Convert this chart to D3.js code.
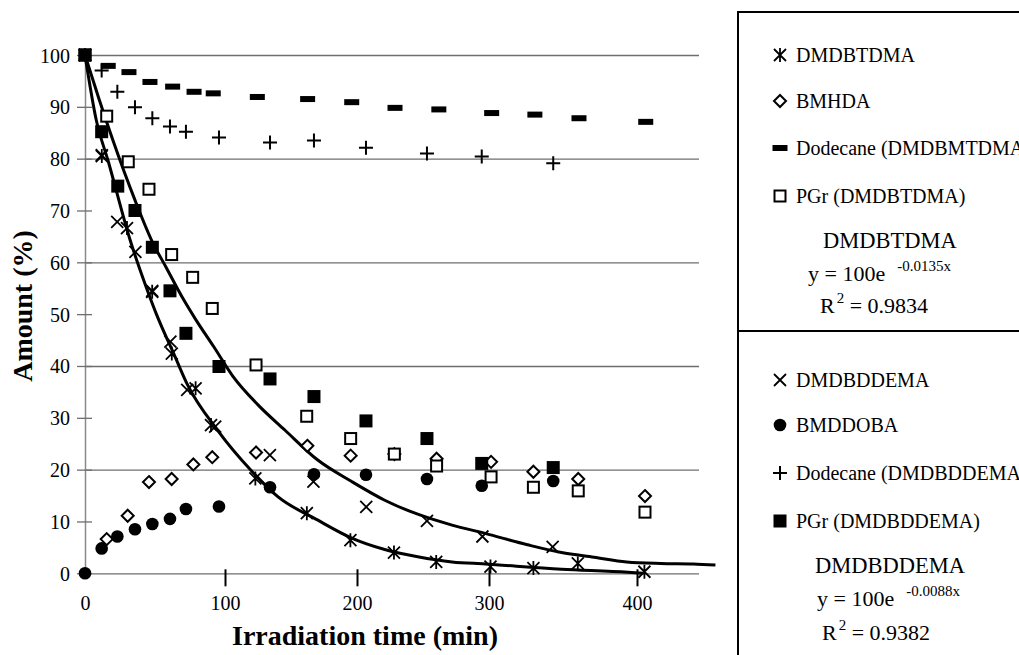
<!DOCTYPE html>
<html>
<head>
<meta charset="utf-8">
<script src="https://cdn.jsdelivr.net/npm/d3@7"></script>
<style>
  body { margin: 0; background: #fff; }
  svg { display: block; }
  text { font-family: "Liberation Serif", "Times New Roman", serif; fill: #000; }
</style>
</head>
<body>
<svg id="chart" width="1019" height="655"></svg>
<script>
// Series values: [time (min), amount (%)]
const dmdbtdma = [[0,100],[12,80.5],[30,66.6],[48,54.3],[62,42.4],[79,35.7],[90,28.6],[123,18.3],[162,11.6],[195,6.4],[228,4.0],[260,2.2],[301,1.3],[330,1.0],[360,1.9],[405,0.3]];
const bmhda = [[15.5,6.6],[30.5,11.1],[45.7,17.6],[61.9,18.2],[77.4,21.0],[90.9,22.4],[123.5,23.3],[162.4,24.6],[195.2,22.7],[228.3,23.0],[260.3,22.1],[301.4,21.5],[330,19.6],[360.3,18.2],[405.4,14.9]];
const dodecaneTD = [[16.6,97.9],[31.4,96.7],[46.4,94.8],[62.6,93.9],[77.9,92.9],[91.6,92.6],[124.5,91.9],[162.6,91.5],[196,90.9],[228.8,89.8],[262,89.5],[301.8,88.8],[331,88.5],[360.8,87.8],[405.9,87.1]];
const pgrTD = [[0,100],[15.5,88.2],[30.9,79.4],[45.7,74.1],[61.9,61.5],[76.9,57.1],[90.9,51.1],[123.5,40.2],[161.9,30.3],[195.2,26.0],[228.3,23.0],[260.3,20.7],[301.4,18.6],[330,16.6],[360.3,15.9],[405.4,11.8]];

const dmdbddema = [[0,100],[12,80.7],[23,67.8],[36,62.0],[48,54.5],[61,44.7],[73,35.4],[93,28.3],[134,22.8],[167,17.7],[207,12.8],[253,10.1],[295,7.1],[343,5.1]];
const bmddoba = [[0,0],[11.9,4.8],[23.1,7.1],[35.7,8.5],[48.1,9.5],[60.7,10.5],[72.1,12.4],[95.7,12.9],[134.1,16.6],[167.4,19.1],[206.8,19.0],[253,18.2],[294.5,16.9],[343.4,17.8]];
const dodecaneDD = [[11.9,97.0],[23.1,92.9],[35.7,89.9],[48.1,87.8],[60.7,86.2],[72.1,85.2],[95.7,84.1],[134.1,83.1],[167.4,83.5],[206.8,82.1],[253,81.0],[294.5,80.4],[343.4,79.1]];
const pgrDD = [[0,100],[11.9,85.2],[23.4,74.7],[35.7,70.0],[48.1,62.9],[60.7,54.5],[72.1,46.3],[95.7,39.9],[134.1,37.5],[167.4,34.1],[206.8,29.4],[253,26.0],[294.5,21.2],[343.4,20.4]];

// fitted curves
const fitTD = [[0,100],[8,87.5],[16.6,79.5],[32,64.5],[44,55],[51,50],[64,42],[73,36.5],[95,27.5],[120,19.8],[140,14.8],[170,10.3],[196,6.8],[221,4.6],[246,3.2],[272,2.2],[297,1.8],[349,0.8],[394,0.2],[404,0]];
const fitDD = [[0,100],[10,91.5],[20,83.5],[35.7,72],[48,64],[58,59],[70,53],[79,49],[92,43.7],[106,38],[125,32.5],[145.5,27.6],[170,21.9],[196,17.7],[221,14.1],[246,11.4],[272,9.3],[297,7.7],[326,5.5],[349,4.0],[371,3.1],[393,2.2],[416,1.9],[438,1.8],[453,1.6]];

const xTicks = [0, 100, 200, 300, 400];
const yTicks = [0, 10, 20, 30, 40, 50, 60, 70, 80, 90, 100];
const yGrid = [0, 20, 40, 60, 80, 100];

const legendTop = ["DMDBTDMA", "BMHDA", "Dodecane (DMDBMTDMA)", "PGr (DMDBTDMA)"];
const legendBottom = ["DMDBDDEMA", "BMDDOBA", "Dodecane (DMDBDDEMA)", "PGr (DMDBDDEMA)"];
const fitTop = { name: "DMDBTDMA", k: "-0.0135x", r2: "0.9834" };
const fitBottom = { name: "DMDBDDEMA", k: "-0.0088x", r2: "0.9382" };

// ---------------------------------------------------------------
const svg = d3.select("#chart");
svg.append("rect").attr("width", 1019).attr("height", 655).attr("fill", "#fff");

// the original axis is not evenly spaced, so the scale is polylinear
const x = d3.scaleLinear().domain(xTicks).range([85, 225, 357, 489, 637]);
const y = d3.scaleLinear().domain([0, 100]).range([573.3, 55]);
const plotRight = 699;

// gridlines
svg.append("g")
    .attr("transform", "translate(85,0)")
    .call(d3.axisLeft(y).tickValues(yGrid).tickSize(-(plotRight - 85)).tickFormat(""))
    .call(g => g.select(".domain").remove())
    .call(g => g.selectAll("line").attr("stroke", "#6e6e6e").attr("stroke-width", 1.3));

// y axis
let yAxis = svg.append("g")
    .attr("transform", "translate(85,0)")
    .call(d3.axisLeft(y).tickValues(yTicks).tickSize(8).tickPadding(7).tickSizeOuter(0));
yAxis.select(".domain").attr("stroke", "#8a8a8a").attr("stroke-width", 1.5);
yAxis.selectAll(".tick line").attr("x1", -8).attr("x2", 7).attr("stroke", "#6e6e6e").attr("stroke-width", 1.3);
yAxis.selectAll(".tick text")
    .style("font-family", "'Liberation Serif', serif")
    .style("font-size", "20px")
    .attr("dy", "0.35em");

// x axis
let xAxis = svg.append("g")
    .attr("transform", `translate(0,${y(0)})`)
    .call(d3.axisBottom(x).tickValues(xTicks).tickSize(13).tickSizeOuter(0));
xAxis.select(".domain").remove();
xAxis.selectAll(".tick line")
    .attr("y1", -4).attr("y2", 13)
    .attr("stroke", "#000").attr("stroke-width", 2)
    .attr("display", d => d === 0 ? "none" : null);
xAxis.selectAll(".tick text")
    .style("font-family", "'Liberation Serif', serif")
    .style("font-size", "20px")
    .attr("y", 37).attr("dy", 0);

// axis titles
svg.append("text")
    .attr("x", 365).attr("y", 645)
    .attr("text-anchor", "middle")
    .style("font-size", "28px").style("font-weight", "bold")
    .text("Irradiation time (min)");
svg.append("text")
    .attr("transform", "translate(32,306) rotate(-90)")
    .attr("text-anchor", "middle")
    .style("font-size", "28px").style("font-weight", "bold")
    .text("Amount (%)");

// fitted curves
const line = d3.line().x(d => x(d[0])).y(d => y(d[1])).curve(d3.curveMonotoneX);
[fitTD, fitDD].forEach(pts => {
    svg.append("path")
        .attr("d", line(pts))
        .attr("fill", "none")
        .attr("stroke", "#000")
        .attr("stroke-width", 3);
});

// marker painters
const shapes = {
    asterisk(g) {
        g.append("path").attr("d", "M-6,-6L6,6M-6,6L6,-6M0,-7L0,7")
            .attr("stroke", "#000").attr("stroke-width", 1.8).attr("fill", "none");
    },
    cross(g) {
        g.append("path").attr("d", "M-6,-6L6,6M-6,6L6,-6")
            .attr("stroke", "#000").attr("stroke-width", 1.8).attr("fill", "none");
    },
    plus(g) {
        g.append("path").attr("d", "M-7,0L7,0M0,-7L0,7")
            .attr("stroke", "#000").attr("stroke-width", 2).attr("fill", "none");
    },
    diamond(g) {
        g.append("path").attr("d", "M0,-6L6,0L0,6L-6,0Z")
            .attr("stroke", "#000").attr("stroke-width", 2).attr("fill", "#fff");
    },
    dash(g) {
        g.append("rect").attr("x", -7.5).attr("y", -3).attr("width", 15).attr("height", 6).attr("fill", "#000");
    },
    openSquare(g) {
        g.append("rect").attr("x", -5.5).attr("y", -5.5).attr("width", 11).attr("height", 11)
            .attr("stroke", "#000").attr("stroke-width", 2).attr("fill", "#fff");
    },
    filledSquare(g) {
        g.append("rect").attr("x", -6.5).attr("y", -6.5).attr("width", 13).attr("height", 13).attr("fill", "#000");
    },
    circle(g) {
        g.append("circle").attr("r", 6.3).attr("fill", "#000");
    }
};

const series = [
    { data: dodecaneTD, shape: "dash" },
    { data: dodecaneDD, shape: "plus" },
    { data: bmhda, shape: "diamond" },
    { data: pgrTD, shape: "openSquare" },
    { data: bmddoba, shape: "circle" },
    { data: pgrDD, shape: "filledSquare" },
    { data: dmdbddema, shape: "cross" },
    { data: dmdbtdma, shape: "asterisk" }
];

series.forEach(s => {
    svg.append("g").selectAll("g")
        .data(s.data)
        .enter().append("g")
        .attr("transform", d => `translate(${x(d[0])},${y(d[1])})`)
        .each(function () { shapes[s.shape](d3.select(this)); });
});

// legend boxes
svg.append("rect")
    .attr("x", 738).attr("y", 12).attr("width", 400).attr("height", 700)
    .attr("fill", "none").attr("stroke", "#000").attr("stroke-width", 2);
svg.append("line")
    .attr("x1", 738).attr("x2", 1019).attr("y1", 331).attr("y2", 331)
    .attr("stroke", "#000").attr("stroke-width", 2);

function drawLegend(labels, markers, ys) {
    labels.forEach((lab, i) => {
        let g = svg.append("g").attr("transform", `translate(780,${ys[i]})`);
        shapes[markers[i]](g);
        svg.append("text")
            .attr("x", 796).attr("y", ys[i] + 7)
            .style("font-size", "20px")
            .text(lab);
    });
}
drawLegend(legendTop, ["asterisk", "diamond", "dash", "openSquare"], [55, 101, 148, 196]);
drawLegend(legendBottom, ["cross", "circle", "plus", "filledSquare"], [380, 425, 473, 521]);

function drawFit(f, ys, eqX, rX) {
    svg.append("text")
        .attr("x", 890).attr("y", ys[0])
        .attr("text-anchor", "middle")
        .style("font-size", "22.5px")
        .text(f.name);
    let eq = svg.append("text")
        .attr("x", eqX).attr("y", ys[1])
        .style("font-size", "22px");
    eq.append("tspan").text("y = 100e");
    eq.append("tspan").attr("dy", -10).attr("dx", 12).style("font-size", "15px").text(f.k);
    let r = svg.append("text")
        .attr("x", rX).attr("y", ys[2])
        .style("font-size", "22px");
    r.append("tspan").text("R");
    r.append("tspan").attr("dy", -10).attr("dx", 2).style("font-size", "15px").text("2");
    r.append("tspan").attr("dy", 10).text(" = " + f.r2);
}
drawFit(fitTop, [248, 281, 313], 808, 820);
drawFit(fitBottom, [573, 606, 640], 817, 822);
</script>
</body>
</html>
